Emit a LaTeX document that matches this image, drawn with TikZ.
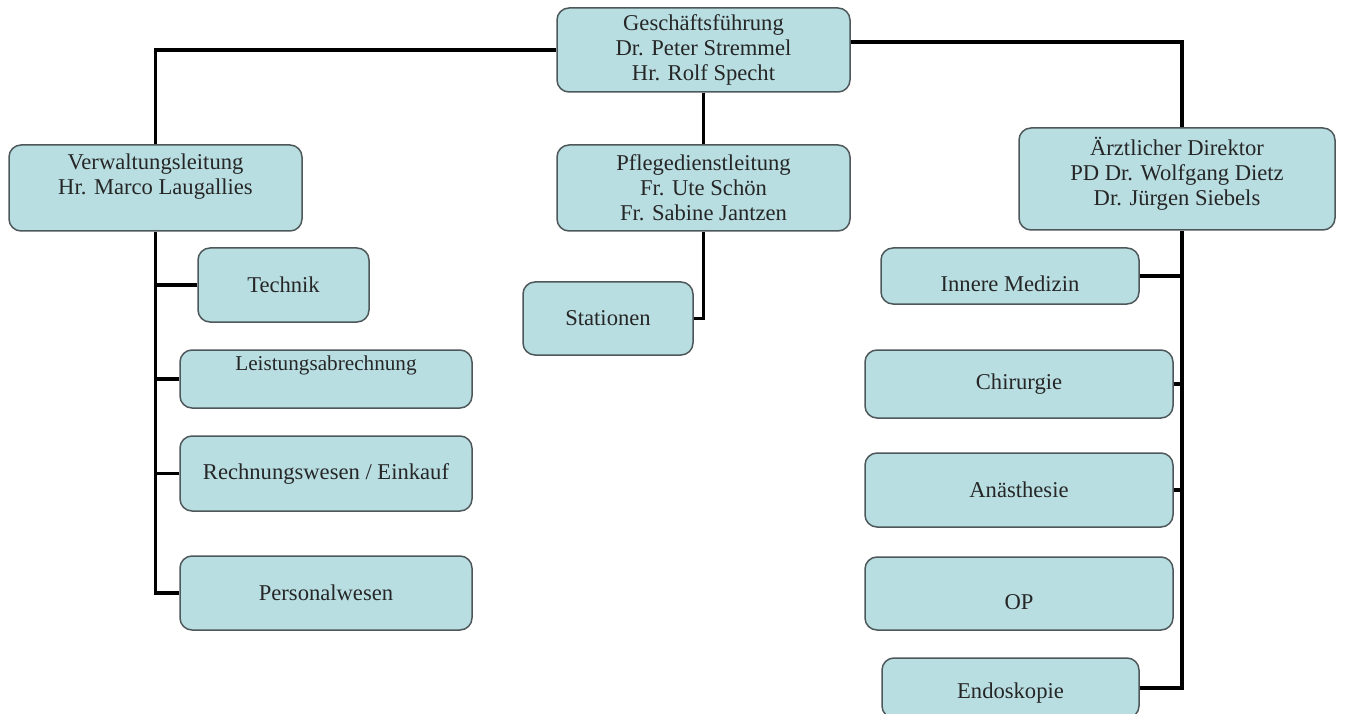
\documentclass[tikz,border=0pt]{standalone}
\usepackage{fontspec}
\setmainfont{Liberation Serif}
\usepackage{tikz}
\definecolor{boxfill}{RGB}{184,222,226}
\definecolor{boxline}{RGB}{78,88,90}

\begin{document}
\begin{tikzpicture}[x=1pt,y=-1pt,semithick]
        \tikzstyle{orgbox}=[
            draw=boxline,
            line width=1.5pt,
            fill=boxfill,
            rounded corners=12pt,
            align=center,
            text=black!85,
            font=\fontsize{22.6}{25}\selectfont
        ]
        \tikzstyle{conn}=[line width=3.5pt, black]

        \useasboundingbox[fill=white] (0,0) rectangle (1350,714);

        % top level
        \node[orgbox, minimum width=293, minimum height=84] (gf) at (703.5,50){Geschäftsführung\\Dr. Peter Stremmel\\Hr. Rolf Specht};

        % second level
        \node[orgbox, minimum width=293, minimum height=86, text depth=27pt] (vl) at (155.5,188){Verwaltungsleitung\\Hr. Marco Laugallies};
        \node[orgbox, minimum width=293, minimum height=86] (pd) at (703.5,188){Pflegedienstleitung\\Fr. Ute Schön\\Fr. Sabine Jantzen};
        \node[orgbox, minimum width=316, minimum height=102, text depth=15pt] (ad) at (1177,179){Ärztlicher Direktor\\PD Dr. Wolfgang Dietz\\Dr. Jürgen Siebels};

        % Verwaltung
        \node[orgbox, minimum width=171, minimum height=74] (technik) at (283.5,285){Technik};
        \node[orgbox, minimum width=292, minimum height=58, text depth=32pt, font=\fontsize{21.2}{24}\selectfont] (leist) at (326,379){Leistungsabrechnung};
        \node[orgbox, minimum width=292, minimum height=75] (rech) at (326,473.5){Rechnungswesen / Einkauf};
        \node[orgbox, minimum width=292, minimum height=74] (pers) at (326,593){Personalwesen};

        % Pflege
        \node[orgbox, minimum width=170, minimum height=73] (stat) at (608,318.5){Stationen};

        % Medizin
        \node[orgbox, minimum width=258, minimum height=56, text height=31pt] (inn) at (1010,276){Innere Medizin};
        \node[orgbox, minimum width=308, minimum height=68] (chir) at (1019,384){Chirurgie};
        \node[orgbox, minimum width=308, minimum height=74] (anae) at (1019,490){Anästhesie};
        \node[orgbox, minimum width=308, minimum height=73, text height=32pt] (op) at (1019,593.5){OP};
        \node[orgbox, minimum width=257, minimum height=60, text height=25pt] (endo) at (1010.5,688){Endoskopie};

        \coordinate (adspine) at ([xshift=5pt]ad.south);

        % connectors
        \draw[conn] (gf.west) -| (vl.north);
        \draw[conn] ([yshift=8pt]gf.east) -| ([xshift=5pt]ad.north);
        \draw[conn] (gf.south) -- (pd.north);

        \draw[conn] (vl.south) |- (pers.west);
        \draw[conn] (technik.west) -- (technik.west -| vl.south);
        \draw[conn] (leist.west) -- (leist.west -| vl.south);
        \draw[conn] (rech.west) -- (rech.west -| vl.south);

        \draw[conn] (pd.south) |- (stat.east);

        \draw[conn] (adspine) |- (endo.east);
        \draw[conn] (inn.east) -- (inn.east -| adspine);
        \draw[conn] (chir.east) -- (chir.east -| adspine);
        \draw[conn] (anae.east) -- (anae.east -| adspine);

    \end{tikzpicture}
\end{document}
